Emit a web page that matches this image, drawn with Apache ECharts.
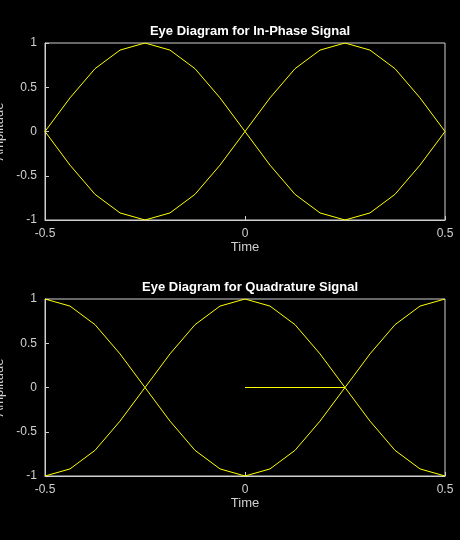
<!DOCTYPE html>
<html>
<head>
<meta charset="utf-8">
<script src="https://cdn.jsdelivr.net/npm/echarts@6/dist/echarts.min.js"></script>
<style>
html, body { margin: 0; padding: 0; background: #000; }
#chart { width: 460px; height: 540px; }
</style>
</head>
<body>
<div id="chart"></div>
<script>
// sample times (step 1/16)
var timeVals = [-0.5, -0.4375, -0.375, -0.3125, -0.25, -0.1875, -0.125, -0.0625, 0,
	0.0625, 0.125, 0.1875, 0.25, 0.3125, 0.375, 0.4375, 0.5];
// in-phase traces
var inPhaseA = [0, 0.38, 0.71, 0.92, 1, 0.92, 0.71, 0.38, 0, -0.38, -0.71, -0.92, -1, -0.92, -0.71, -0.38, 0];
var inPhaseB = [0, -0.38, -0.71, -0.92, -1, -0.92, -0.71, -0.38, 0, 0.38, 0.71, 0.92, 1, 0.92, 0.71, 0.38, 0];
// quadrature traces
var quadA = [1, 0.92, 0.71, 0.38, 0, -0.38, -0.71, -0.92, -1, -0.92, -0.71, -0.38, 0, 0.38, 0.71, 0.92, 1];
var quadB = [-1, -0.92, -0.71, -0.38, 0, 0.38, 0.71, 0.92, 1, 0.92, 0.71, 0.38, 0, -0.38, -0.71, -0.92, -1];
var quadStubX = [0, 0.25];
var quadStubY = [0, 0];

var titles = ['Eye Diagram for In-Phase Signal', 'Eye Diagram for Quadrature Signal'];

function pairs(xs, ys) {
	return xs.map(function(x, i) { return [x, ys[i]]; });
}

var axisColor = '#d0d0d0';
var labelStyle = { color: '#d0d0d0', fontSize: 12, fontFamily: 'Liberation Sans' };

function xAx(idx) {
	return {
		type: 'value', gridIndex: idx, min: -0.5, max: 0.5, interval: 0.5,
		name: 'Time', nameLocation: 'middle', nameGap: 20,
		nameTextStyle: { color: '#d0d0d0', fontSize: 13, fontFamily: 'Liberation Sans' },
		axisLine: { onZero: false, lineStyle: { color: axisColor } },
		axisTick: { inside: true, length: 4, lineStyle: { color: axisColor } },
		axisLabel: labelStyle,
		splitLine: { show: false }
	};
}
function yAx(idx) {
	return {
		type: 'value', gridIndex: idx, min: -1, max: 1, interval: 0.5,
		name: 'Amplitude', nameLocation: 'middle', nameGap: 30,
		nameTextStyle: { color: '#d0d0d0', fontSize: 13, fontFamily: 'Liberation Sans' },
		axisLine: { onZero: false, lineStyle: { color: axisColor } },
		axisTick: { inside: true, length: 4, lineStyle: { color: axisColor } },
		axisLabel: labelStyle,
		splitLine: { show: false }
	};
}
function line(idx, data) {
	return {
		type: 'line', xAxisIndex: idx, yAxisIndex: idx, data: data,
		symbol: 'none', lineStyle: { color: '#ffff00', width: 1 }, animation: false
	};
}

var chart = echarts.init(document.getElementById('chart'));
chart.setOption({
	backgroundColor: '#000',
	title: [
		{ text: titles[0], left: 245, top: 20, textAlign: 'center',
			textStyle: { color: '#fff', fontSize: 13, fontWeight: 'bold', fontFamily: 'Liberation Sans' } },
		{ text: titles[1], left: 245, top: 276, textAlign: 'center',
			textStyle: { color: '#fff', fontSize: 13, fontWeight: 'bold', fontFamily: 'Liberation Sans' } }
	],
	grid: [
		{ left: 45, right: 15, top: 43, height: 177, show: true, borderColor: axisColor, borderWidth: 1,
			containLabel: false, outerBoundsMode: 'none' },
		{ left: 45, right: 15, top: 299, height: 177, show: true, borderColor: axisColor, borderWidth: 1,
			containLabel: false, outerBoundsMode: 'none' }
	],
	xAxis: [xAx(0), xAx(1)],
	yAxis: [yAx(0), yAx(1)],
	series: [
		line(0, pairs(timeVals, inPhaseA)),
		line(0, pairs(timeVals, inPhaseB)),
		line(1, pairs(timeVals, quadA)),
		line(1, pairs(timeVals, quadB)),
		line(1, pairs(quadStubX, quadStubY))
	]
});
</script>
</body>
</html>
